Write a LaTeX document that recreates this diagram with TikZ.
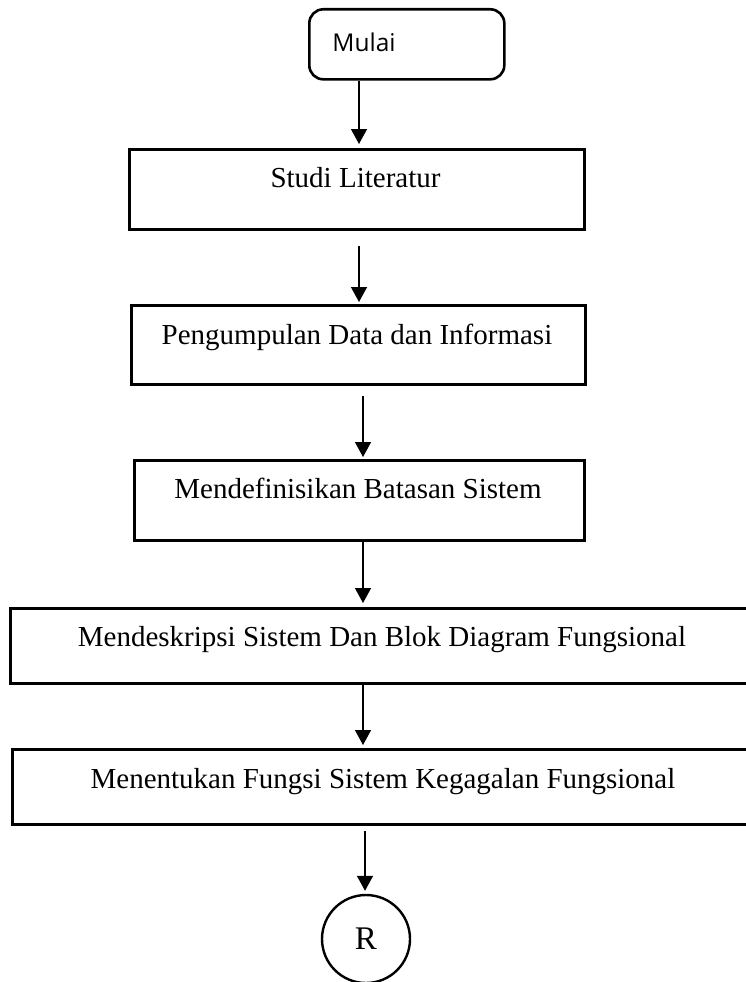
\documentclass[tikz,border=0pt]{standalone}
\usepackage{fontspec}
\setmainfont{Liberation Serif}
\newfontfamily\labelsans{Open Sans}
\usetikzlibrary{arrows.meta}
\begin{document}
\begin{tikzpicture}[x=1pt,y=-1pt,
  box/.style={draw, line width=2.6pt, inner sep=0pt, anchor=north west},
  caption/.style={anchor=base, inner sep=0pt, font=\fontsize{29}{34}\selectfont},
  arr/.style={line width=1.4pt, -{Triangle[length=15pt,width=16pt]}},
]
\useasboundingbox (0,0) rectangle (746,982);
\clip (0,0) rectangle (746,982);

% columns of the connectors
\coordinate (colA) at (359,0);
\coordinate (colB) at (363,0);
\coordinate (colC) at (365,0);

% start terminator
\node[box, rounded corners=14pt, minimum width=195pt, minimum height=70pt] (start) at (308,8) {};
\node[anchor=base, inner sep=0pt, font=\labelsans\fontsize{24.5}{28}\selectfont] (starttext) at (364,52) {Mulai};

% process boxes
\node[box, minimum width=455pt, minimum height=80pt] (b1) at (128,148) {};
\node[caption] (t1) at (355.5,187) {Studi Literatur};

\node[box, minimum width=454pt, minimum height=79pt] (b2) at (130,304) {};
\node[caption] (t2) at (357,344) {Pengumpulan Data dan Informasi};

\node[box, minimum width=450pt, minimum height=80pt] (b3) at (133,459) {};
\node[caption] (t3) at (358,498) {Mendefinisikan Batasan Sistem};

\node[box, minimum width=746pt, minimum height=75pt] (b4) at (9,607) {};
\node[caption] (t4) at (382,646) {Mendeskripsi Sistem Dan Blok Diagram Fungsional};

\node[box, minimum width=744pt, minimum height=75pt] (b5) at (11,748) {};
\node[caption] (t5) at (383,788) {Menentukan Fungsi Sistem Kegagalan Fungsional};

% off-page connector
\node[draw, circle, line width=2.4pt, minimum size=88pt, inner sep=0pt,
      font=\fontsize{33}{36}\selectfont] (conn) at (366,939) {R};

% connectors
\draw[arr] (start.south -| colA) -- ([yshift=4pt]b1.north -| colA);
\draw[arr] ([yshift=-15pt]b1.south -| colA) -- ([yshift=2pt]b2.north -| colA);
\draw[arr] ([yshift=-10pt]b2.south -| colB) -- ([yshift=2pt]b3.north -| colB);
\draw[arr] (b3.south -| colB) -- ([yshift=4pt]b4.north -| colB);
\draw[arr] (b4.south -| colB) -- ([yshift=3pt]b5.north -| colB);
\draw[arr] ([yshift=-5pt]b5.south -| colC) -- ([yshift=3pt]conn.north -| colC);
\end{tikzpicture}
\end{document}
